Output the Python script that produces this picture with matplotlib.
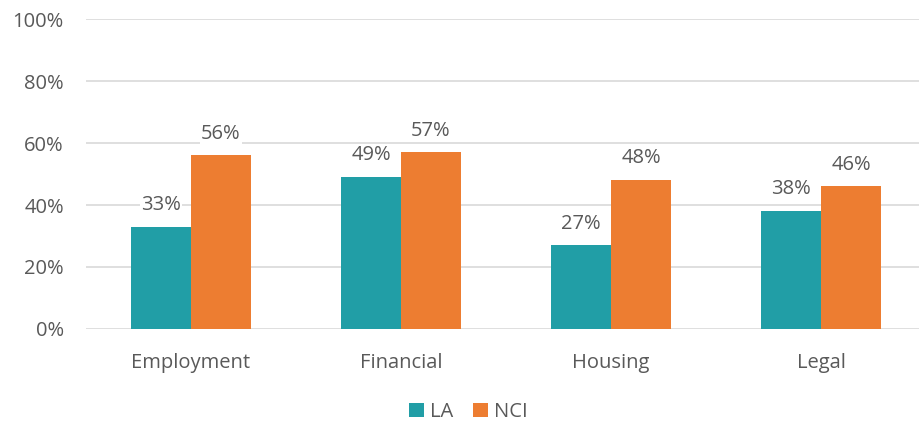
import numpy as np
import matplotlib
matplotlib.use("Agg")
import matplotlib.pyplot as plt

# datos
categorias = ["Employment", "Financial", "Housing", "Legal"]
la = [33, 49, 27, 38]
nci = [56, 57, 48, 46]

c_la = "#219EA6"
c_nci = "#ED7D31"
gris = "#595959"

plt.rcParams["font.family"] = ["Open Sans", "DejaVu Sans"]

fig = plt.figure(figsize=(9.19, 4.25), dpi=100)
ax = fig.add_axes([0.0936, 0.226, 0.914, 0.729])

x = np.arange(len(categorias))
w = 0.286
b1 = ax.bar(x - w / 2, la, w, color=c_la, label="LA", zorder=2)
b2 = ax.bar(x + w / 2, nci, w, color=c_nci, label="NCI", zorder=2)

for barras, vals in [(b1, la), (b2, nci)]:
    for r, v in zip(barras, vals):
        ax.text(r.get_x() + r.get_width() / 2, v + 3.8, f"{v}%", ha="center", va="bottom",
                fontsize=14.5, color=gris, zorder=3,
                bbox=dict(facecolor="white", edgecolor="none", pad=1))

ax.set_xlim(-0.5, 3.5)
ax.set_ylim(0, 100)
ax.set_yticks(range(0, 101, 20))
ax.set_yticklabels([f"{t}%" for t in range(0, 101, 20)])
ax.set_xticks(x)
ax.set_xticklabels(categorias)
ax.tick_params(axis="both", length=0, labelsize=14.5, labelcolor=gris)
ax.tick_params(axis="y", pad=16)
ax.tick_params(axis="x", pad=17)
ax.grid(axis="y", color="#D9D9D9", linewidth=1.2, zorder=0)
for s in ax.spines.values():
    s.set_visible(False)

ax.legend(loc="center", bbox_to_anchor=(0.455, -0.268), ncol=2, frameon=False,
          fontsize=14.5, labelcolor=gris, handlelength=0.75, handleheight=0.75,
          handletextpad=0.3, columnspacing=1.0)

fig.savefig("out.png", dpi=100)
